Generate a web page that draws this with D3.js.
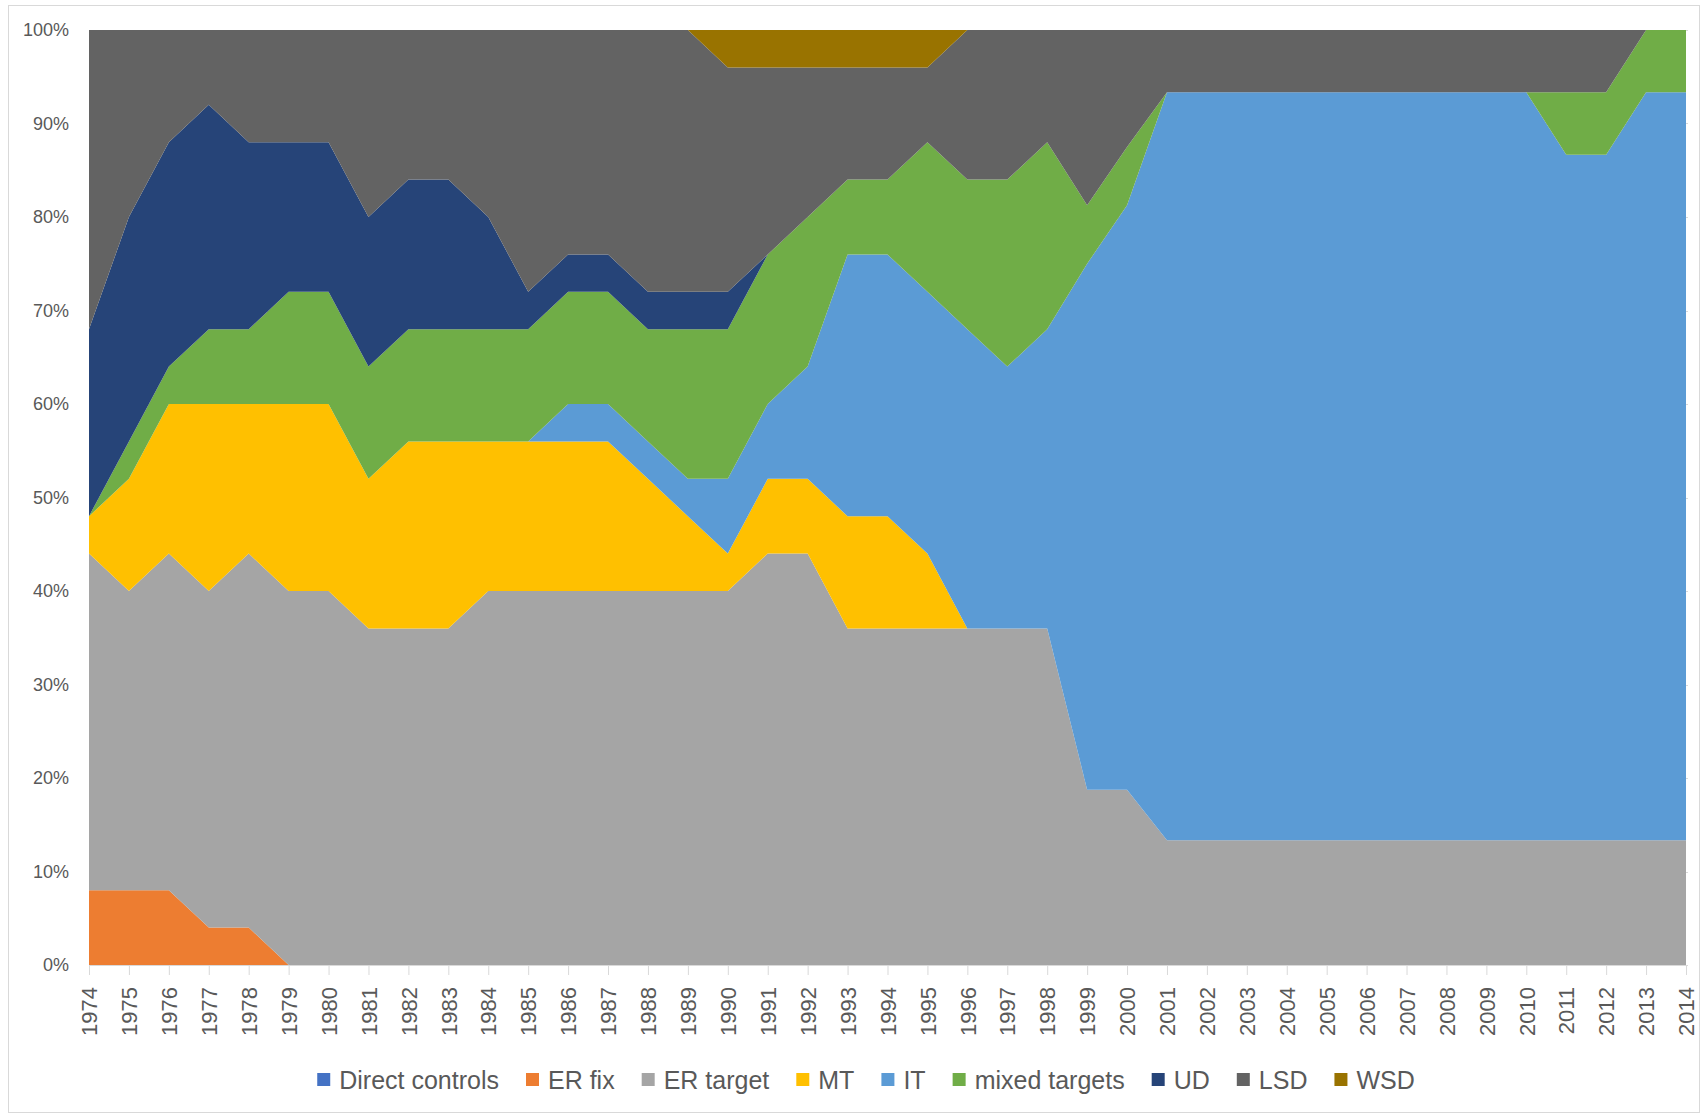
<!DOCTYPE html>
<html>
<head>
<meta charset="utf-8">
<script src="https://cdn.jsdelivr.net/npm/d3@7"></script>
<style>
body { margin: 0; background: #fff; }
svg { display: block; font-family: "Liberation Sans", Arial, sans-serif; }
</style>
</head>
<body>
<div id="chart"></div>
<script>
// years on the x axis
var years = [1974,1975,1976,1977,1978,1979,1980,1981,1982,1983,1984,1985,1986,1987,1988,1989,1990,1991,1992,1993,
             1994,1995,1996,1997,1998,1999,2000,2001,2002,2003,2004,2005,2006,2007,2008,2009,2010,2011,2012,2013,2014];

// share of countries (%) per regime
var directControls = [0,0,0,0,0,0,0,0,0,0,0,0,0,0,0,0,0,0,0,0,0,0,0,0,0,0,0,0,0,0,0,0,0,0,0,0,0,0,0,0,0];
var erFix    = [8,8,8,4,4,0,0,0,0,0,0,0,0,0,0,0,0,0,0,0,0,0,0,0,0,0,0,0,0,0,0,0,0,0,0,0,0,0,0,0,0];
var erTarget = [36,32,36,36,40,40,40,36,36,36,40,40,40,40,40,40,40,44,44,36,36,36,36,36,36,18.75,18.75,
                13.33,13.33,13.33,13.33,13.33,13.33,13.33,13.33,13.33,13.33,13.33,13.33,13.33,13.33];
var mt       = [4,12,16,20,16,20,20,16,20,20,16,16,16,16,12,8,4,8,8,12,12,8,0,0,0,0,0,0,0,0,0,0,0,0,0,0,0,0,0,0,0];
var it       = [0,0,0,0,0,0,0,0,0,0,0,0,4,4,4,4,8,8,12,28,28,28,32,28,32,56.25,62.5,
                80,80,80,80,80,80,80,80,80,80,73.33,73.33,80,80];
var mixed    = [0,4,4,8,8,12,12,12,12,12,12,12,12,12,12,16,16,16,16,8,8,16,16,20,20,6.25,6.25,
                0,0,0,0,0,0,0,0,0,0,6.67,6.67,6.67,6.67];
var ud       = [20,24,24,24,20,16,16,16,16,16,12,4,4,4,4,4,4,0,0,0,0,0,0,0,0,0,0,0,0,0,0,0,0,0,0,0,0,0,0,0,0];
var lsd      = [32,20,12,8,12,12,12,20,16,16,20,28,24,24,28,28,24,20,16,12,12,8,16,16,12,18.75,12.5,
                6.67,6.67,6.67,6.67,6.67,6.67,6.67,6.67,6.67,6.67,6.67,6.67,0,0];
var wsd      = [0,0,0,0,0,0,0,0,0,0,0,0,0,0,0,0,4,4,4,4,4,4,0,0,0,0,0,0,0,0,0,0,0,0,0,0,0,0,0,0,0];

var seriesNames = ["Direct controls","ER fix","ER target","MT","IT","mixed targets","UD","LSD","WSD"];
var seriesData = [directControls, erFix, erTarget, mt, it, mixed, ud, lsd, wsd];
var colors = ["#4472C4","#ED7D31","#A5A5A5","#FFC000","#5B9BD5","#70AD47","#264478","#636363","#997300"];
var yTicks = [0,10,20,30,40,50,60,70,80,90,100];

var W = 1702, H = 1115;
var m = {left: 89, right: 1686, top: 30, bottom: 965};

var svg = d3.select("#chart").append("svg").attr("width", W).attr("height", H);

// chart area border
svg.append("rect")
    .attr("x", 8.5).attr("y", 5.5)
    .attr("width", 1691).attr("height", 1107)
    .attr("fill", "#fff").attr("stroke", "#d9d9d9");

var rows = years.map(function(yr, i){
    var r = {year: yr};
    seriesNames.forEach(function(name, k){ r[name] = seriesData[k][i]; });
    return r;
});

var x = d3.scaleLinear().domain([years[0], years[years.length-1]]).range([m.left, m.right]);
var y = d3.scaleLinear().domain([0, 100]).range([m.bottom, m.top]);

// gridlines
svg.append("g").selectAll("line").data(yTicks).enter().append("line")
    .attr("x1", m.left).attr("x2", m.right + 2)
    .attr("y1", function(d){ return Math.round(y(d)) + 0.5; })
    .attr("y2", function(d){ return Math.round(y(d)) + 0.5; })
    .attr("stroke", "#d9d9d9");

var stacked = d3.stack().keys(seriesNames)(rows);

var area = d3.area()
    .x(function(d){ return x(d.data.year); })
    .y0(function(d){ return y(d[0]); })
    .y1(function(d){ return y(d[1]); });

svg.append("g").selectAll("path").data(stacked).enter().append("path")
    .attr("d", area)
    .attr("fill", function(d, i){ return colors[i]; });

// y axis
var yAxis = svg.append("g")
    .attr("transform", "translate(" + m.left + ",0)")
    .call(d3.axisLeft(y).tickValues(yTicks).tickSize(0).tickPadding(20)
        .tickFormat(function(d){ return d + "%"; }));
yAxis.select(".domain").remove();
yAxis.selectAll("text")
    .attr("font-size", "18px")
    .attr("font-family", "'Liberation Sans', Arial, sans-serif")
    .attr("fill", "#595959");

// x axis
var xAxis = svg.append("g")
    .attr("transform", "translate(0," + m.bottom + ")")
    .call(d3.axisBottom(x).tickValues(years).tickSize(10).tickFormat(d3.format("d")));
xAxis.select(".domain").attr("stroke", "#d9d9d9");
xAxis.selectAll(".tick line").attr("stroke", "#d9d9d9");
xAxis.selectAll("text")
    .attr("transform", "rotate(-90)")
    .attr("x", -22).attr("y", 0).attr("dy", "0.35em")
    .attr("text-anchor", "end")
    .attr("font-size", "22px")
    .attr("font-family", "'Liberation Sans', Arial, sans-serif")
    .attr("fill", "#595959");

// legend
var legend = svg.append("g").attr("transform", "translate(0,1080)");
var items = legend.selectAll("g").data(seriesNames).enter().append("g");
items.append("rect")
    .attr("width", 13).attr("height", 13).attr("y", -7)
    .attr("fill", function(d, i){ return colors[i]; });
items.append("text")
    .attr("x", 22).attr("dy", "0.36em")
    .attr("font-size", "25px")
    .attr("fill", "#595959")
    .text(function(d){ return d; });

var pos = 0, offsets = [];
items.each(function(){
    offsets.push(pos);
    pos += 22 + this.querySelector("text").getComputedTextLength() + 27;
});
var total = pos - 27, start = 866 - total / 2;
items.attr("transform", function(d, i){ return "translate(" + (start + offsets[i]) + ",0)"; });
</script>
</body>
</html>
